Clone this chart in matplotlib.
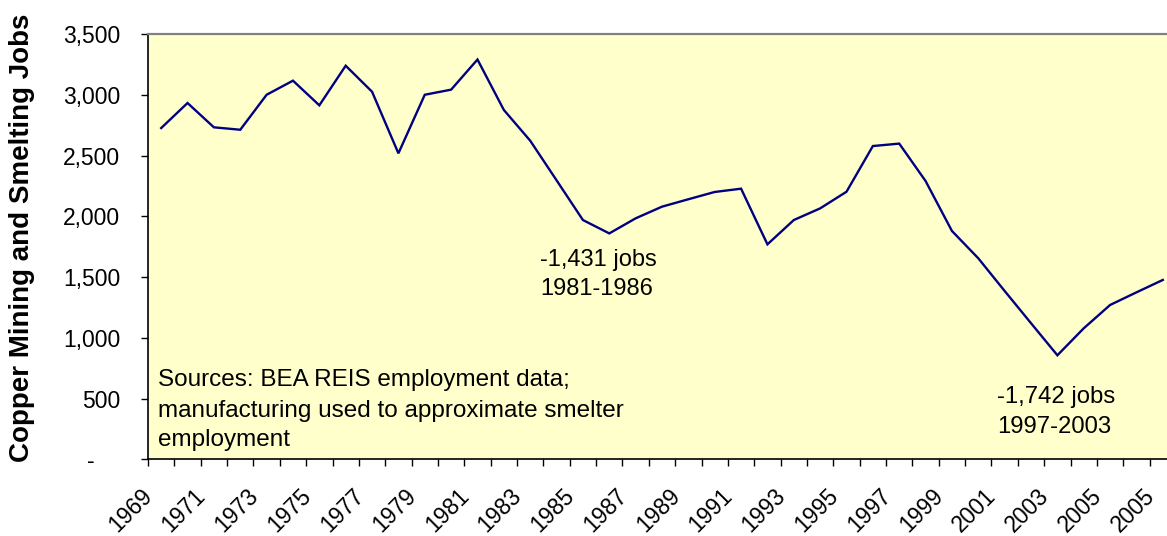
import matplotlib
matplotlib.use("Agg")
import matplotlib.pyplot as plt
from matplotlib.ticker import FuncFormatter, FixedLocator
from matplotlib.transforms import ScaledTranslation

plt.rcParams['font.family'] = ['Liberation Sans', 'DejaVu Sans']

# --- data ---
# one value per year, 39 categories starting at 1969
jobs = [2726, 2932, 2732, 2712, 3000, 3116, 2913, 3239, 3025, 2518,
        3000, 3042, 3290, 2875, 2622, 2296, 1969, 1859, 1983, 2079,
        2140, 2200, 2227, 1769, 1969, 2065, 2202, 2578, 2598, 2290,
        1879, 1654, 1385, 1120, 856, 1078, 1270, 1374, 1476]
# labels shown on every other category (as printed in the original)
tick_labels = ['1969', '1971', '1973', '1975', '1977', '1979', '1981', '1983',
               '1985', '1987', '1989', '1991', '1993', '1995', '1997', '1999',
               '2001', '2003', '2005', '2005']
y_ticks = [0, 500, 1000, 1500, 2000, 2500, 3000, 3500]

W, H = 1167, 536

def fx(x):
    return x / W

def fy(y):
    return 1 - y / H

fig = plt.figure(figsize=(W / 100, H / 100), dpi=100)
# plot area runs a bit past the right edge of the picture, like the original
ax = fig.add_axes([fx(148), fy(459.3), (1176 - 148) / W, (459.3 - 34) / H])
ax.set_facecolor('#FFFFCC')

x = list(range(len(jobs)))
ax.plot(x, jobs, color='#000080', lw=1.7, solid_joinstyle='miter')

ax.set_xlim(-0.5, len(jobs) - 0.5)
ax.set_ylim(0, 3500)

# y axis
ax.set_yticks(y_ticks)
ax.yaxis.set_major_formatter(FuncFormatter(lambda v, p: '-    ' if v == 0 else f'{int(v):,}'))
ax.tick_params(axis='y', direction='out', length=5, width=1, pad=15, labelsize=16.5)

# x axis: marks between categories, labels on every other category
ax.set_xticks(list(range(0, len(jobs), 2)))
ax.set_xticklabels(tick_labels, rotation=45, ha='right', va='center',
                   rotation_mode='anchor', fontsize=16.5)
ax.xaxis.set_minor_locator(FixedLocator([i - 0.5 for i in range(len(jobs) + 1)]))
ax.tick_params(axis='x', which='major', length=0, pad=24)
ax.tick_params(axis='x', which='minor', direction='out', length=5, width=1)

# Excel puts the rotated labels a little left of the category centre
shift = ScaledTranslation(-12 / 100, 0, fig.dpi_scale_trans)
for lbl in ax.get_xticklabels():
    lbl.set_transform(lbl.get_transform() + shift)

for s in ['left', 'bottom']:
    ax.spines[s].set_color('black')
    ax.spines[s].set_linewidth(1.2)
ax.spines['top'].set_color('#808080')
ax.spines['top'].set_linewidth(1.6)
ax.spines['right'].set_visible(False)

fig.text(fx(22), fy(237.5), 'Copper Mining and Smelting Jobs', rotation=90,
         ha='center', va='center', fontsize=20, fontweight='bold')

# annotations
fig.text(fx(540), fy(266), '-1,431 jobs', fontsize=17, va='baseline')
fig.text(fx(540), fy(295), '1981-1986', fontsize=17, va='baseline')
fig.text(fx(997), fy(403), '-1,742 jobs', fontsize=17.2, va='baseline')
fig.text(fx(997), fy(433), '1997-2003', fontsize=17.2, va='baseline')

fig.text(fx(158), fy(386), 'Sources: BEA REIS employment data;', fontsize=17.5, va='baseline')
fig.text(fx(158), fy(416.5), 'manufacturing used to approximate smelter', fontsize=17.5, va='baseline')
fig.text(fx(158), fy(446), 'employment', fontsize=17.5, va='baseline')

fig.savefig('out.png', dpi=100)
